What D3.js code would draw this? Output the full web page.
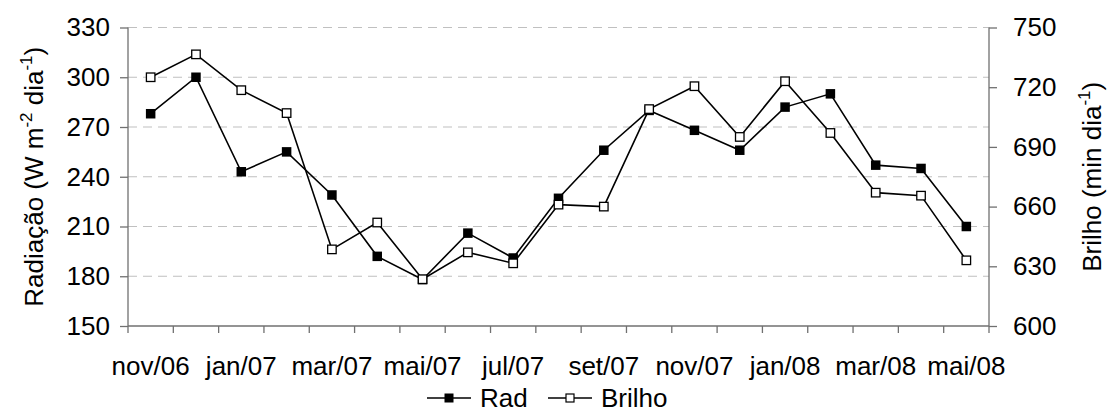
<!DOCTYPE html>
<html>
<head>
<meta charset="utf-8">
<script src="https://cdn.jsdelivr.net/npm/d3@7"></script>
<style>
  html, body { margin: 0; padding: 0; background: #fff; }
  svg { display: block; font-family: "Liberation Sans", Arial, sans-serif; }
</style>
</head>
<body>
<svg id="chart" width="1109" height="414"></svg>
<script>
const categories = ["nov/06","dez/06","jan/07","fev/07","mar/07","abr/07","mai/07","jun/07","jul/07","ago/07","set/07","out/07","nov/07","dez/07","jan/08","fev/08","mar/08","abr/08","mai/08"];
const radValues = [278, 300, 243, 255, 229, 192, 178, 206, 191, 227, 256, 280, 268, 256, 282, 290, 247, 245, 210];
const brilhoValues = [725, 736.5, 718.5, 707, 638.5, 652, 623.5, 637, 631.5, 661, 660, 709, 720.5, 695, 723, 697, 667, 665.5, 633];
const leftTicks = [150, 180, 210, 240, 270, 300, 330];
const rightTicks = [600, 630, 660, 690, 720, 750];
const shownLabels = ["nov/06","jan/07","mar/07","mai/07","jul/07","set/07","nov/07","jan/08","mar/08","mai/08"];
const seriesNames = ["Rad", "Brilho"];

(function () {
const svg = d3.select("#chart");
const pLeft = 128, pRight = 989, pTop = 27.5, pBottom = 326;
const fs = 26;

const x = d3.scaleBand().domain(categories).range([pLeft, pRight]).padding(0);
const yL = d3.scaleLinear().domain([150, 330]).range([pBottom, pTop]);
const yR = d3.scaleLinear().domain([600, 750]).range([pBottom, pTop]);

// gridlines
svg.append("g").selectAll("line").data(leftTicks.filter(d => d !== 150)).join("line")
  .attr("x1", pLeft).attr("x2", pRight)
  .attr("y1", d => yL(d)).attr("y2", d => yL(d))
  .attr("stroke", "#c0c0c0").attr("stroke-width", 1.2).attr("stroke-dasharray", "9,6");

const axisColor = "#707070";
const gL = svg.append("g").attr("transform", `translate(${pLeft},0)`)
  .call(d3.axisLeft(yL).tickValues(leftTicks).tickSize(8).tickPadding(10).tickFormat(d3.format("d")));
const gR = svg.append("g").attr("transform", `translate(${pRight},0)`)
  .call(d3.axisRight(yR).tickValues(rightTicks).tickSize(8).tickPadding(16).tickFormat(d3.format("d")));
[gL, gR].forEach(g => {
  g.select(".domain").attr("stroke", axisColor).attr("stroke-width", 1.3).attr("d", `M0,${pTop}V${pBottom}`);
  g.selectAll(".tick line").attr("stroke", axisColor).attr("stroke-width", 1.3);
  g.selectAll(".tick text").attr("font-size", fs).attr("fill", "#000").attr("font-family", "Liberation Sans, Arial, sans-serif");
});

// bottom axis
const gB = svg.append("g");
gB.append("line").attr("x1", pLeft).attr("x2", pRight).attr("y1", pBottom).attr("y2", pBottom)
  .attr("stroke", axisColor).attr("stroke-width", 1.3);
const edges = categories.map(c => x(c)).concat([x(categories[categories.length - 1]) + x.bandwidth()]);
gB.selectAll("line.tk").data(edges).join("line").attr("class", "tk")
  .attr("x1", d => d).attr("x2", d => d).attr("y1", pBottom).attr("y2", pBottom + 7)
  .attr("stroke", axisColor).attr("stroke-width", 1.3);
gB.selectAll("text").data(shownLabels).join("text")
  .attr("x", d => x(d) + x.bandwidth() / 2).attr("y", 375)
  .attr("text-anchor", "middle").attr("font-size", fs).attr("fill", "#000").text(d => d);

// lines
const cx = (d, i) => x(categories[i]) + x.bandwidth() / 2;
const lineL = d3.line().x(cx).y(d => yL(d));
const lineR = d3.line().x(cx).y(d => yR(d));
svg.append("path").datum(radValues).attr("d", lineL).attr("fill", "none").attr("stroke", "#000").attr("stroke-width", 1.6);
svg.append("path").datum(brilhoValues).attr("d", lineR).attr("fill", "none").attr("stroke", "#000").attr("stroke-width", 1.6);

const ms = 9.5;
svg.append("g").selectAll("rect").data(radValues).join("rect")
  .attr("x", (d, i) => cx(d, i) - ms / 2)
  .attr("y", d => yL(d) - ms / 2).attr("width", ms).attr("height", ms).attr("fill", "#000");
const mo = 8.5;
svg.append("g").selectAll("rect").data(brilhoValues).join("rect")
  .attr("x", (d, i) => cx(d, i) - mo / 2)
  .attr("y", d => yR(d) - mo / 2).attr("width", mo).attr("height", mo)
  .attr("fill", "#fff").attr("stroke", "#000").attr("stroke-width", 1.3);

// axis titles
const cy = (pTop + pBottom) / 2;
const tL = svg.append("text").attr("transform", `translate(43,${cy}) rotate(-90)`)
  .attr("text-anchor", "middle").attr("font-size", fs).attr("fill", "#000");
tL.append("tspan").text("Radiação (W m");
tL.append("tspan").attr("font-size", 17).attr("dy", -11).text("-2");
tL.append("tspan").attr("dy", 11).text(" dia");
tL.append("tspan").attr("font-size", 17).attr("dy", -11).text("-1");
tL.append("tspan").attr("dy", 11).text(")");

const tR = svg.append("text").attr("transform", `translate(1101,${cy}) rotate(-90)`)
  .attr("text-anchor", "middle").attr("font-size", fs).attr("fill", "#000");
tR.append("tspan").text("Brilho (min dia");
tR.append("tspan").attr("font-size", 17).attr("dy", -11).text("-1");
tR.append("tspan").attr("dy", 11).text(")");

// legend
const legend = svg.append("g");
const leg = [{name: seriesNames[0], x0: 427, filled: true}, {name: seriesNames[1], x0: 548, filled: false}];
leg.forEach(l => {
  const g = legend.append("g");
  g.append("line").attr("x1", l.x0).attr("x2", l.x0 + 44).attr("y1", 398).attr("y2", 398)
    .attr("stroke", "#000").attr("stroke-width", 1.6);
  if (l.filled) {
    g.append("rect").attr("x", l.x0 + 22 - 4.5).attr("y", 398 - 4.5).attr("width", 9).attr("height", 9).attr("fill", "#000");
  } else {
    g.append("rect").attr("x", l.x0 + 22 - 4).attr("y", 398 - 4).attr("width", 8).attr("height", 8)
      .attr("fill", "#fff").attr("stroke", "#000").attr("stroke-width", 1.2);
  }
  g.append("text").attr("x", l.x0 + 53).attr("y", 407).attr("font-size", fs).attr("fill", "#000").text(l.name);
});
})();
</script>
</body>
</html>
